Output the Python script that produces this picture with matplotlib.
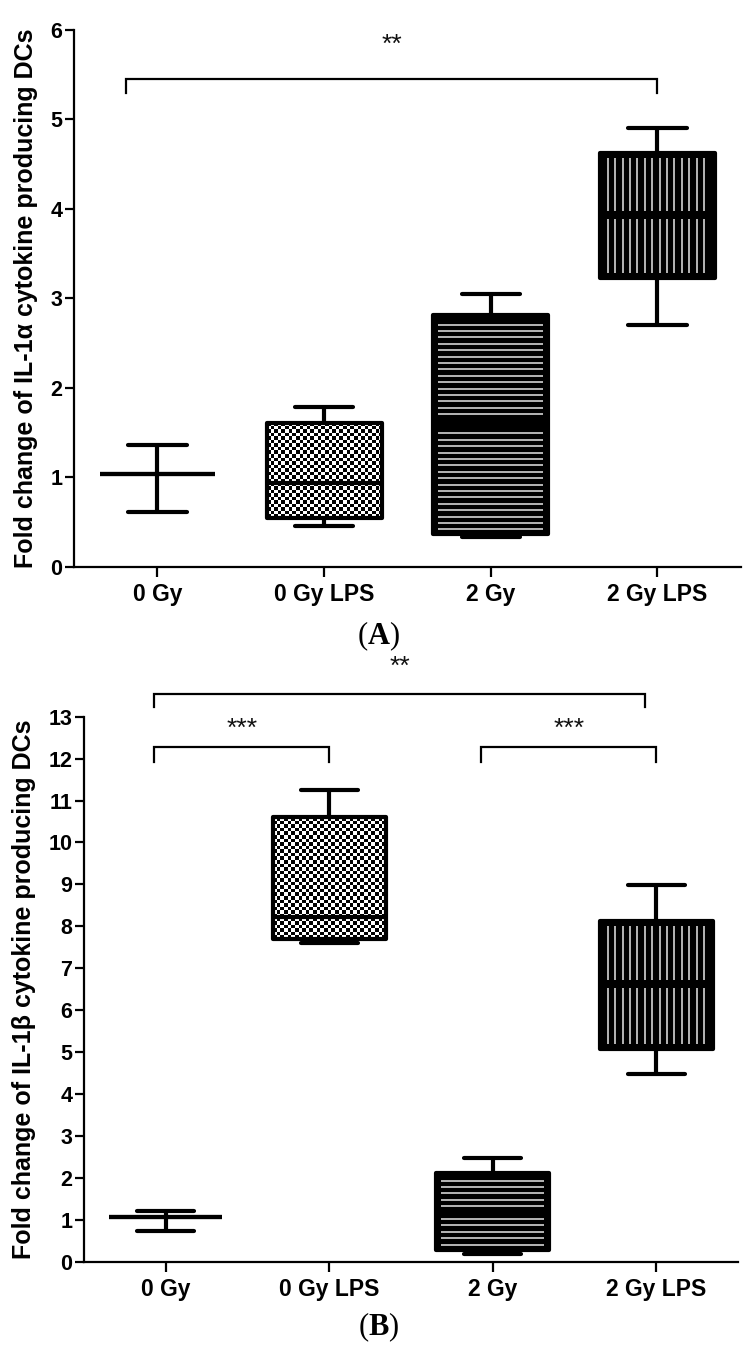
import numpy as np
import matplotlib
matplotlib.use('Agg')
import matplotlib.pyplot as plt

plt.rcParams['font.family'] = ['Liberation Sans', 'DejaVu Sans']
plt.rcParams['mathtext.fontset'] = 'custom'
plt.rcParams['mathtext.rm'] = 'Liberation Serif'
plt.rcParams['mathtext.bf'] = 'Liberation Serif:bold'

categories = ['0 Gy', '0 Gy LPS', '2 Gy', '2 Gy LPS']
patterns = ['none', 'checker', 'hstripes', 'vstripes']

# Panel A: IL-1alpha
a_min = [0.61, 0.45, 0.33, 2.70]
a_q1 = [1.04, 0.54, 0.36, 3.23]
a_med = [1.04, 0.94, 1.60, 3.93]
a_q3 = [1.04, 1.61, 2.81, 4.63]
a_max = [1.36, 1.79, 3.05, 4.91]
a_ticks = [0, 1, 2, 3, 4, 5, 6]
# significance brackets: (x_left, x_right, y_bar, y_drop, label, y_label)
a_sig = [(-0.19, 3.0, 5.45, 5.30, '**', 5.83)]

# Panel B: IL-1beta
b_min = [0.73, 7.60, 0.18, 4.48]
b_q1 = [1.06, 7.69, 0.29, 5.08]
b_med = [1.06, 8.22, 1.20, 6.62]
b_q3 = [1.06, 10.60, 2.12, 8.13]
b_max = [1.21, 11.25, 2.47, 8.98]
b_ticks = list(range(0, 14))
b_sig = [(-0.07, 2.93, 13.53, 13.22, '**', 14.20),
         (-0.07, 1.0, 12.27, 11.93, '***', 12.70),
         (1.93, 3.0, 12.27, 11.93, '***', 12.70)]

FIG_W, FIG_H = 749, 1356
fig = plt.figure(figsize=(FIG_W / 100, FIG_H / 100), dpi=100)


def panel(rect, mins, q1s, meds, q3s, maxs, ticks, sig, ylabel, caption, cap_y, ylab_x):
    ax = fig.add_axes(rect)
    ymax = ticks[-1]
    ax.set_xlim(-0.5, 3.5)
    ax.set_ylim(0, ymax)
    px_x = 4.0 / (rect[2] * FIG_W)
    px_y = ymax / (rect[3] * FIG_H)
    stats = []
    for i in range(4):
        stats.append(dict(med=meds[i], q1=q1s[i], q3=q3s[i],
                          whislo=mins[i], whishi=maxs[i], fliers=[]))
    w = 0.69
    bp = ax.bxp(stats, positions=range(4), widths=w, capwidths=0.35,
                patch_artist=True, showfliers=False,
                boxprops=dict(facecolor='white', edgecolor='black', linewidth=3.0, joinstyle='round'),
                whiskerprops=dict(color='black', linewidth=3.0, solid_capstyle='round'),
                capprops=dict(color='black', linewidth=3.0, solid_capstyle='round'),
                medianprops=dict(color='black', linewidth=3.0, solid_capstyle='butt'))
    for i, p in enumerate(patterns):
        box = bp['boxes'][i]
        x0, x1 = i - w / 2, i + w / 2
        lo, hi = q1s[i], q3s[i]
        if p == 'checker':
            cell = 3.6
            nx = int(round((x1 - x0) / px_x / cell))
            ny = int(round((hi - lo) / px_y / cell))
            board = (np.add.outer(np.arange(ny), np.arange(nx)) % 2).astype(float)
            im = ax.imshow(board, cmap='gray', extent=[x0, x1, lo, hi], aspect='auto',
                           interpolation='nearest', origin='lower', zorder=2.5, vmin=0, vmax=1)
            im.set_clip_path(box)
            box.set_zorder(2.6)
            box.set_facecolor('none')
            bp['medians'][i].set_zorder(2.7)
        elif p == 'hstripes':
            box.set_facecolor('black')
            step = 6.4 * px_y
            ys = np.arange(lo + 5 * px_y, hi - 4 * px_y, step)
            ys = ys[np.abs(ys - meds[i]) > 4.5 * px_y]
            ax.hlines(ys, x0 + 5 * px_x, x1 - 5 * px_x, colors='#e6e6e6', linewidth=1.1, zorder=2.6)
        elif p == 'vstripes':
            box.set_facecolor('black')
            step = 7.4 * px_x
            xs = np.arange(x0 + 8 * px_x, x1 - 5 * px_x, step)
            ax.vlines(xs, lo + 5 * px_y, meds[i] - 4 * px_y, colors='#e6e6e6', linewidth=1.1, zorder=2.6)
            ax.vlines(xs, meds[i] + 4 * px_y, hi - 5 * px_y, colors='#e6e6e6', linewidth=1.1, zorder=2.6)
    for (xl, xr, yb, yd, lab, yl) in sig:
        ax.plot([xl, xl, xr, xr], [yd, yb, yb, yd], color='black', lw=1.6, clip_on=False,
                solid_joinstyle='miter')
        ax.text((xl + xr) / 2, yl, lab, ha='center', va='center', fontsize=19,
                color='#111111', clip_on=False)
    ax.spines['top'].set_visible(False)
    ax.spines['right'].set_visible(False)
    ax.spines['left'].set_linewidth(1.6)
    ax.spines['bottom'].set_linewidth(1.6)
    ax.set_yticks(ticks)
    ax.set_yticklabels([str(t) for t in ticks], fontsize=15.5, fontweight='bold')
    ax.set_xticks(range(4))
    ax.set_xticklabels(categories, fontsize=16.5, fontweight='bold')
    ax.tick_params(axis='y', length=6.5, width=1.6, pad=2)
    ax.tick_params(axis='x', length=7, width=1.6, pad=5)
    fig.text(ylab_x, rect[1] + rect[3] / 2, ylabel, rotation=90, ha='center', va='center',
             fontsize=18, fontweight='bold')
    fig.text(0.505, cap_y, caption, ha='center', va='center', fontsize=22)
    return ax


panel([74 / FIG_W, 1 - 566.7 / FIG_H, (740.7 - 74) / FIG_W, (566.7 - 30) / FIG_H],
      a_min, a_q1, a_med, a_q3, a_max, a_ticks, a_sig,
      'Fold change of IL-1α cytokine producing DCs', r'$\mathrm{(}\mathbf{A}\mathrm{)}$',
      1 - 636 / FIG_H, 26 / FIG_W)
panel([84 / FIG_W, 1 - 1261.7 / FIG_H, (738 - 84) / FIG_W, (1261.7 - 716.7) / FIG_H],
      b_min, b_q1, b_med, b_q3, b_max, b_ticks, b_sig,
      'Fold change of IL-1β cytokine producing DCs', r'$\mathrm{(}\mathbf{B}\mathrm{)}$',
      1 - 1327 / FIG_H, 24 / FIG_W)

fig.savefig('out.png', dpi=100, facecolor='white')
